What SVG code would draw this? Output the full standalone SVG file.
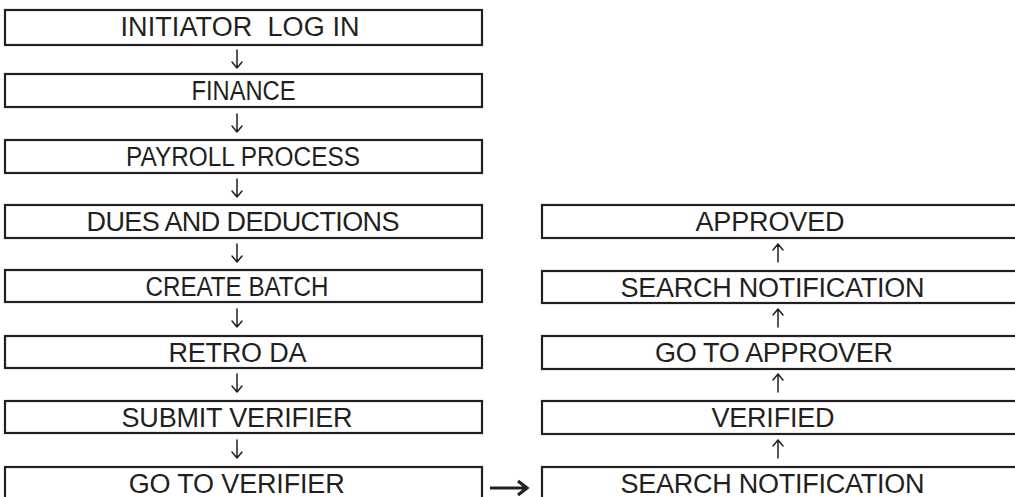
<svg xmlns="http://www.w3.org/2000/svg" width="1015" height="497" viewBox="0 0 1015 497">
<style>
.box{fill:#fff;stroke:#231f20;stroke-width:2.2}
.lbl{font-family:"Liberation Sans",Arial,sans-serif;font-size:27px;fill:#231f20;text-anchor:middle;white-space:pre}
.arr{fill:none;stroke:#231f20;stroke-width:1.5;stroke-linecap:round;stroke-linejoin:round}
.arrb{fill:none;stroke:#231f20;stroke-width:3.2;stroke-linejoin:miter}
</style>
<rect width="1015" height="497" fill="#fff"/>
<g id="n1"><rect class="box" x="5" y="10" width="477" height="35"/><text class="lbl" x="240" y="36" xml:space="preserve" textLength="239">INITIATOR  LOG IN</text></g>
<g id="n2"><rect class="box" x="5" y="74" width="477" height="33"/><text class="lbl" x="243.5" y="100" textLength="104" lengthAdjust="spacingAndGlyphs">FINANCE</text></g>
<g id="n3"><rect class="box" x="5" y="140" width="477" height="33"/><text class="lbl" x="243" y="166" textLength="234" lengthAdjust="spacingAndGlyphs">PAYROLL PROCESS</text></g>
<g id="n4"><rect class="box" x="5" y="205" width="477" height="33"/><text class="lbl" x="243" y="231" textLength="313">DUES AND DEDUCTIONS</text></g>
<g id="n5"><rect class="box" x="5" y="270" width="477" height="32"/><text class="lbl" x="237" y="295.5" textLength="183" lengthAdjust="spacingAndGlyphs">CREATE BATCH</text></g>
<g id="n6"><rect class="box" x="5" y="336" width="477" height="32"/><text class="lbl" x="237.5" y="361.5" textLength="138">RETRO DA</text></g>
<g id="n7"><rect class="box" x="5" y="401" width="477" height="32"/><text class="lbl" x="237" y="426.5" textLength="231">SUBMIT VERIFIER</text></g>
<g id="n8"><rect class="box" x="5" y="467" width="477" height="40"/><text class="lbl" x="236.7" y="492.5" textLength="216">GO TO VERIFIER</text></g>
<g id="n9"><rect class="box" x="542" y="205" width="500" height="33"/><text class="lbl" x="770" y="231" textLength="149">APPROVED</text></g>
<g id="n10"><rect class="box" x="542" y="271" width="500" height="32"/><text class="lbl" x="772.5" y="296.5" textLength="304">SEARCH NOTIFICATION</text></g>
<g id="n11"><rect class="box" x="542" y="336" width="500" height="33"/><text class="lbl" x="774" y="361.5" textLength="238">GO TO APPROVER</text></g>
<g id="n12"><rect class="box" x="542" y="401" width="500" height="33"/><text class="lbl" x="773" y="426.5" textLength="123">VERIFIED</text></g>
<g id="n13"><rect class="box" x="542" y="467" width="500" height="40"/><text class="lbl" x="772.5" y="492.5" textLength="304">SEARCH NOTIFICATION</text></g>
<g id="connectors">
<path class="arr" d="M237 50V68M232 62L237 68L242 62"/>
<path class="arr" d="M237 114V132M232 126L237 132L242 126"/>
<path class="arr" d="M237 179V197M232 191L237 197L242 191"/>
<path class="arr" d="M237 244V262M232 256L237 262L242 256"/>
<path class="arr" d="M237 309V327M232 321L237 327L242 321"/>
<path class="arr" d="M237 374V392M232 386L237 392L242 386"/>
<path class="arr" d="M237 440V458M232 452L237 458L242 452"/>
<path class="arr" d="M778 262V244M773 250L778 244L783 250"/>
<path class="arr" d="M778 327V309M773 315L778 309L783 315"/>
<path class="arr" d="M778 392V374M773 380L778 374L783 380"/>
<path class="arr" d="M778 458V440M773 446L778 440L783 446"/>
<path class="arrb" d="M490 488H527M518 481L527 488L518 495"/>
</g>
</svg>
